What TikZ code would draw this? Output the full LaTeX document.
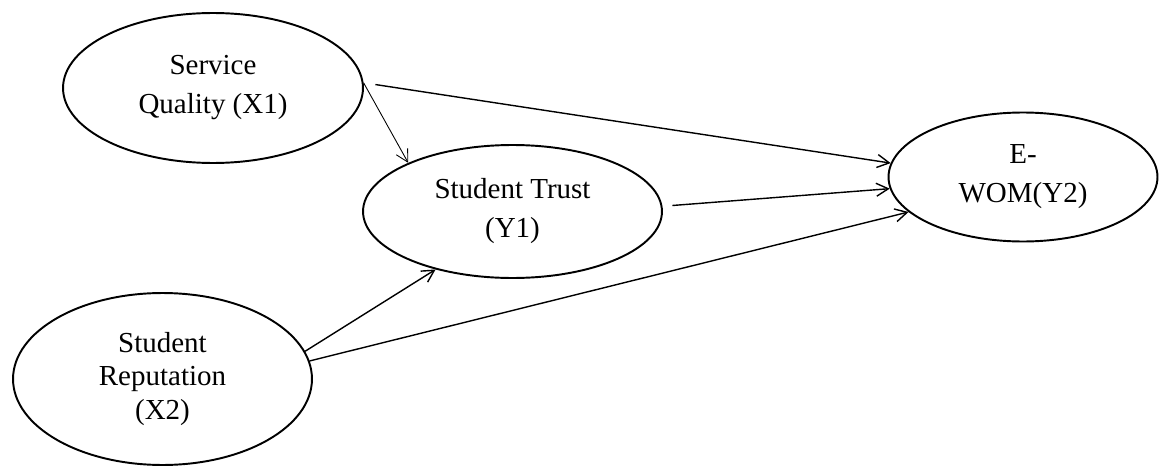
\documentclass[tikz,border=0pt]{standalone}
\usepackage{fontspec}
\setmainfont{Liberation Serif}
\usetikzlibrary{shapes.geometric, arrows.meta}

\begin{document}
\begin{tikzpicture}[x=0.02cm, y=-0.02cm, >={Straight Barb[length=0.24cm, width=0.26cm]},
  every node/.style={font=\fontsize{16.5}{18.8}\selectfont},
  latent/.style={draw, ellipse, line width=1.1pt, inner sep=0pt, align=center},
  link/.style={->, line width=0.8pt}]
\useasboundingbox (0,0) rectangle (1159,466);
\node[latent, minimum width=6cm, minimum height=3cm] (x1) at (213,88) {Service\\[0.12cm]Quality (X1)};
\node[latent, minimum width=5.98cm, minimum height=2.66cm] (y1) at (512.5,211.5) {Student Trust\\[0.12cm](Y1)};
\node[latent, minimum width=5.38cm, minimum height=2.58cm] (y2) at (1023,177) {E-\\[0.12cm]WOM(Y2)};
\node[latent, minimum width=5.98cm, minimum height=3.44cm] (x2) at (162.5,379) {Student\\Reputation\\(X2)};
\draw[link, line width=0.5pt] (x1.2) -- (y1.155);
\draw[link, shorten <=0.24cm] (x1.2) -- (y2.174);
\draw[link, shorten <=0.2cm] (y1.2) -- (y2.185);
\draw[link] (x2.11) -- (y1.217);
\draw[link] (x2.7) -- (y2.197);
\end{tikzpicture}
\end{document}
